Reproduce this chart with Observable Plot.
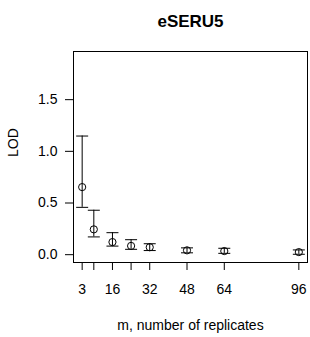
<!DOCTYPE html>
<html>
<head>
<meta charset="utf-8">
<script src="https://cdn.jsdelivr.net/npm/d3@7"></script>
<script src="https://cdn.jsdelivr.net/npm/@observablehq/plot@0.6"></script>
<style>
  html, body { margin: 0; padding: 0; background: #fff; }
  #chart svg { display: block; }
</style>
</head>
<body>
<div id="chart"></div>
<script>
// Data
const title = "eSERU5";
const xLabel = "m, number of replicates";
const yLabel = "LOD";
const m     = [3, 8, 16, 24, 32, 48, 64, 96];
const lod   = [0.654, 0.245, 0.122, 0.085, 0.072, 0.042, 0.035, 0.025];
const lower = [0.458, 0.172, 0.083, 0.052, 0.040, 0.018, 0.013, 0.004];
const upper = [1.148, 0.430, 0.213, 0.145, 0.106, 0.066, 0.062, 0.046];
const xTicks = [3, 8, 16, 24, 32, 48, 64, 96];
const xTickLabels = [3, 16, 32, 48, 64, 96];
const yTicks = [0, 0.5, 1.0, 1.5];

const data = m.map((v, i) => ({m: v, lod: lod[i], lo: lower[i], hi: upper[i]}));

// horizontal bar symbol for error-bar caps
const cap = {
  draw(context, size) {
    const w = Math.sqrt(size / Math.PI);
    context.moveTo(-w, 0);
    context.lineTo(w, 0);
  }
};

const chart = Plot.plot({
  width: 310,
  height: 337,
  marginTop: 51,
  marginRight: 3,
  marginBottom: 75,
  marginLeft: 73,
  style: {fontFamily: "'Liberation Sans', Arial, Helvetica, sans-serif", fontSize: "14px", color: "#000", background: "#fff"},
  x: {domain: [-0.72, 99.72], label: null},
  y: {domain: [-0.0756, 1.966], label: null},
  marks: [
    Plot.frame({stroke: "#000", strokeWidth: 1}),
    Plot.axisX({ticks: xTicks, tickSize: 8, tickPadding: 14, fontSize: 14,
      tickFormat: d => xTickLabels.includes(d) ? String(d) : "", label: null}),
    Plot.axisY({ticks: yTicks, tickSize: 8, tickPadding: 8, fontSize: 14,
      tickFormat: d3.format(".1f"), label: null}),
    Plot.ruleX(data, {x: "m", y1: "lo", y2: "hi", stroke: "#000", strokeWidth: 1}),
    Plot.dot(data, {x: "m", y: "hi", symbol: cap, r: 6, stroke: "#000", strokeWidth: 1}),
    Plot.dot(data, {x: "m", y: "lo", symbol: cap, r: 6, stroke: "#000", strokeWidth: 1}),
    Plot.dot(data, {x: "m", y: "lod", r: 3.6, stroke: "#000", fill: "none", strokeWidth: 1}),
    Plot.text([title], {frameAnchor: "top", dy: -30, fontSize: 17, fontWeight: "bold", lineAnchor: "middle", fill: "#000"}),
    Plot.text([xLabel], {frameAnchor: "bottom", dy: 63, fontSize: 14, lineAnchor: "middle", fill: "#000"}),
    Plot.text([yLabel], {frameAnchor: "left", dx: -60, rotate: -90, fontSize: 14, lineAnchor: "middle", fill: "#000"})
  ]
});
document.getElementById("chart").appendChild(chart);
</script>
</body>
</html>
